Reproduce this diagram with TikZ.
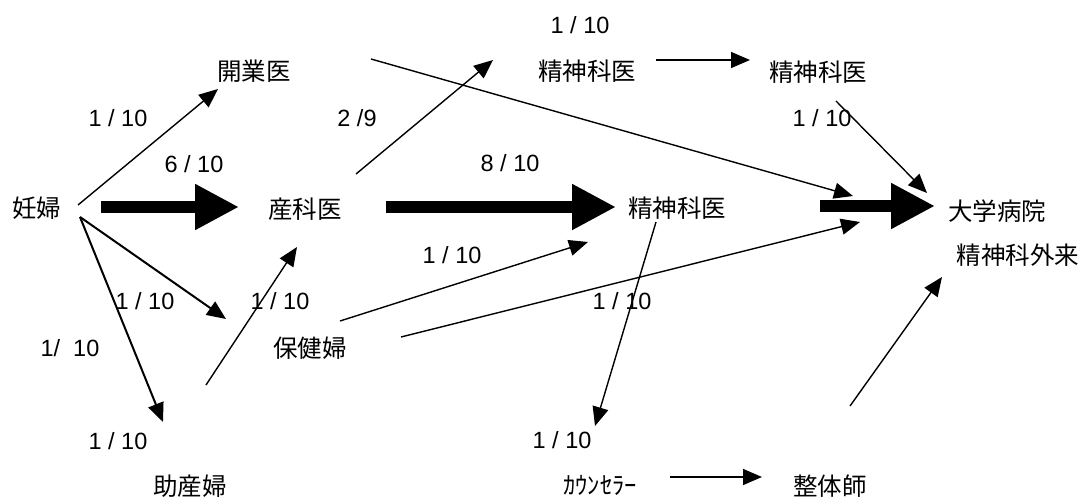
\documentclass[tikz,border=0pt]{standalone}
\usepackage{fontspec}
\setmainfont{Liberation Sans}
\newfontfamily\jp{Noto Sans CJK JP}
\usetikzlibrary{arrows.meta}
\tikzset{
 lbl/.style={inner sep=0pt, font=\fontsize{23.5}{27}\selectfont},
 jlbl/.style={inner sep=0pt, font=\jp\fontsize{24.5}{29}\selectfont},
 thinarr/.style={line width=1.4pt, -{Triangle[length=19pt,width=16pt]}},
 medarr/.style={line width=2pt, -{Triangle[length=19pt,width=16pt]}},
 bigarr/.style={line width=12pt, -{Triangle[length=44pt,width=43pt]}},
}
\begin{document}
\begin{tikzpicture}[x=1pt,y=-1pt]
\useasboundingbox (0,0) rectangle (1083,497);
% nodes
\node[jlbl] (ninpu) at (37,208) {妊婦};
\node[jlbl] (kaigyo) at (254,71) {開業医};
\node[jlbl] (sanka) at (305,209) {産科医};
\node[jlbl] (seishinA) at (587,71) {精神科医};
\node[jlbl] (seishinB) at (818,72) {精神科医};
\node[jlbl] (seishinC) at (677,208) {精神科医};
\node[jlbl] (daigaku) at (997,211) {大学病院};
\node[jlbl] (gairai) at (1018,255) {精神科外来};
\node[jlbl] (hoken) at (310,348) {保健婦};
\node[jlbl] (josan) at (190,486) {助産婦};
\node[jlbl] (counsel) at (600,485) {ｶｳﾝｾﾗｰ};
\node[jlbl] (seitai) at (830,486) {整体師};
% labels
\node[lbl] (l1) at (118,118) {1 / 10};
\node[lbl] (l2) at (194,164) {6 / 10};
\node[lbl] (l3) at (357,118) {2 /9};
\node[lbl] (l4) at (580,25) {1 / 10};
\node[lbl] (l5) at (510,163) {8 / 10};
\node[lbl] (l6) at (822,118) {1 / 10};
\node[lbl] (l7) at (452,255) {1 / 10};
\node[lbl] (l8) at (622,301) {1 / 10};
\node[lbl] (l9) at (562,440) {1 / 10};
\node[lbl] (l10) at (145,301) {1 / 10};
\node[lbl] (l11) at (280,301) {1 / 10};
\node[lbl] (l12) at (70,348) {1/~~10};
\node[lbl] (l13) at (118,441) {1 / 10};
% connector end points
\coordinate (a1s) at (78,205);  \coordinate (a1e) at (218,89);
\coordinate (a2s) at (101,207); \coordinate (a2e) at (239,207);
\coordinate (a3s) at (356,174); \coordinate (a3e) at (493,60);
\coordinate (a4s) at (386,207); \coordinate (a4e) at (616,207);
\coordinate (a5s) at (371,59);  \coordinate (a5e) at (853,196);
\coordinate (a6s) at (656,60);  \coordinate (a6e) at (750,60);
\coordinate (a7s) at (836,101); \coordinate (a7e) at (927,193);
\coordinate (a8s) at (820,206); \coordinate (a8e) at (935,206);
\coordinate (a9s) at (340,321); \coordinate (a9e) at (588,242);
\coordinate (a10s) at (401,337); \coordinate (a10e) at (860,222);
\coordinate (a11s) at (656,222); \coordinate (a11e) at (595,426);
\coordinate (a12s) at (80,217); \coordinate (a12e) at (226,319);
\coordinate (a13s) at (80,217); \coordinate (a13e) at (163,422);
\coordinate (a14s) at (206,385); \coordinate (a14e) at (297,247);
\coordinate (a15s) at (670,477); \coordinate (a15e) at (762,477);
\coordinate (a16s) at (850,406); \coordinate (a16e) at (942,277);
% connectors
\draw[thinarr] (a1s) -- (a1e);
\draw[bigarr] (a2s) -- (a2e);
\draw[thinarr] (a3s) -- (a3e);
\draw[bigarr] (a4s) -- (a4e);
\draw[thinarr] (a5s) -- (a5e);
\draw[thinarr] (a6s) -- (a6e);
\draw[thinarr] (a7s) -- (a7e);
\draw[bigarr] (a8s) -- (a8e);
\draw[thinarr] (a9s) -- (a9e);
\draw[thinarr] (a10s) -- (a10e);
\draw[thinarr] (a11s) -- (a11e);
\draw[medarr] (a12s) -- (a12e);
\draw[medarr] (a13s) -- (a13e);
\draw[thinarr] (a14s) -- (a14e);
\draw[thinarr] (a15s) -- (a15e);
\draw[thinarr] (a16s) -- (a16e);
\end{tikzpicture}
\end{document}
